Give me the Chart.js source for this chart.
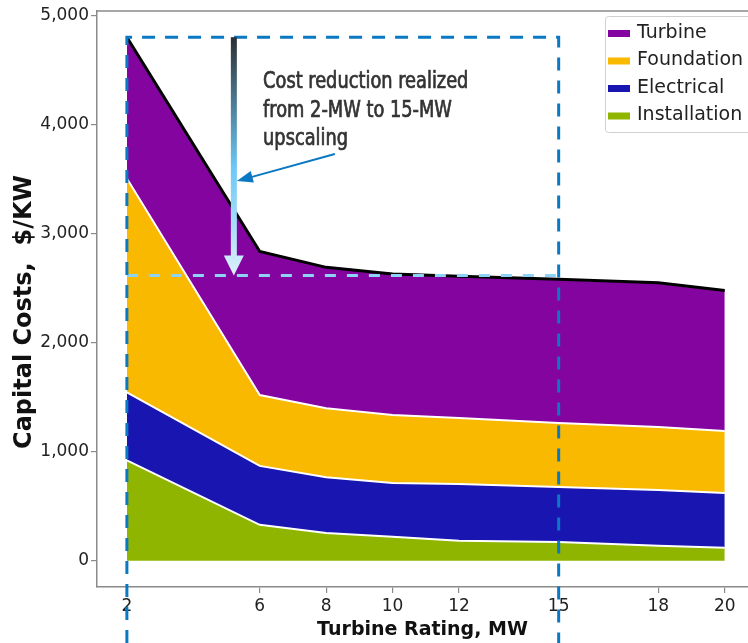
<!DOCTYPE html>
<html>
<head>
<meta charset="utf-8">
<script src="https://cdn.jsdelivr.net/npm/chart.js@4.4.1/dist/chart.umd.min.js"></script>
<style>
  html, body { margin: 0; padding: 0; background: #fff; overflow: hidden; }
  #chart { display: block; }
</style>
</head>
<body>
<canvas id="chart" width="748" height="643"></canvas>
<script>
// ── DATA ────────────────────────────────────────────────────────────────────
const RATINGS = [2, 6, 8, 10, 12, 15, 18, 20];            // MW
const INSTALLATION = [920, 330, 255, 220, 185, 172, 138, 120];
const ELECTRICAL   = [625, 540, 512, 494, 520, 505, 512, 502];
const FOUNDATION   = [1960, 650, 632, 622, 604, 586, 576, 567];
const TURBINE      = [1295, 1316, 1291, 1294, 1300, 1317, 1324, 1289];

const X_TICKS = [2, 6, 8, 10, 12, 15, 18, 20];
const Y_TICKS = [0, 1000, 2000, 3000, 4000, 5000];

const SERIES = [
  { label: 'Installation', data: INSTALLATION, color: '#90b500' },
  { label: 'Electrical',   data: ELECTRICAL,   color: '#1915b0' },
  { label: 'Foundation',   data: FOUNDATION,   color: '#f8b900' },
  { label: 'Turbine',      data: TURBINE,      color: '#8404a0' }
];

// annotation anchors (data space)
const BOX_X = [2, 15];
const BOX_TOP = 4800;
const REDUCED_LEVEL = 2615;
const ARROW_X = 5.22;
const NOTE_LINES = ['Cost reduction realized', 'from 2-MW to 15-MW', 'upscaling'];

const AXIS_GRAY = '#8a8a8a';
const TICK_FONT = { family: 'DejaVu Sans', size: 17 };

// ── ANNOTATIONS / LEGEND / TITLES ───────────────────────────────────────────
const overlay = {
  id: 'overlay',
  afterDatasetsDraw(chart) {
    const ctx = chart.ctx, x = chart.scales.x, y = chart.scales.y, area = chart.chartArea;
    const px = v => x.getPixelForValue(v), py = v => y.getPixelForValue(v);
    ctx.save();

    // top spine (no right spine, it is cropped off)
    ctx.strokeStyle = AXIS_GRAY; ctx.lineWidth = 1.5;
    ctx.beginPath(); ctx.moveTo(area.left, area.top); ctx.lineTo(area.right, area.top); ctx.stroke();

    // light blue dashed level after upscaling
    ctx.strokeStyle = '#8dd3f7'; ctx.lineWidth = 3; ctx.setLineDash([11, 11]);
    ctx.beginPath(); ctx.moveTo(px(BOX_X[0]), py(REDUCED_LEVEL)); ctx.lineTo(px(BOX_X[1]), py(REDUCED_LEVEL)); ctx.stroke();

    // dark blue dashed frame 2 MW -> 15 MW
    ctx.strokeStyle = '#0b78c4'; ctx.lineWidth = 3; ctx.setLineDash([13, 10]);
    ctx.beginPath();
    ctx.moveTo(px(BOX_X[0]), chart.height); ctx.lineTo(px(BOX_X[0]), py(BOX_TOP));
    ctx.lineTo(px(BOX_X[1]), py(BOX_TOP)); ctx.lineTo(px(BOX_X[1]), chart.height);
    ctx.stroke();
    ctx.setLineDash([]);

    // gradient arrow showing the drop
    const ax = px(ARROW_X), yTop = py(BOX_TOP), yTip = py(REDUCED_LEVEL);
    const g = ctx.createLinearGradient(0, yTop, 0, yTip);
    g.addColorStop(0, '#2b2f33'); g.addColorStop(0.55, '#6cc8f6'); g.addColorStop(1, '#dcf1fc');
    ctx.fillStyle = g;
    ctx.fillRect(ax - 3, yTop, 6, yTip - yTop - 19);
    ctx.beginPath(); ctx.moveTo(ax - 10, yTip - 20); ctx.lineTo(ax + 10, yTip - 20); ctx.lineTo(ax, yTip); ctx.closePath(); ctx.fill();

    // pointer from the note to the arrow
    const fx = px(8.26), fy = py(3729), tx = ax + 3, ty = py(3481);
    const ang = Math.atan2(ty - fy, tx - fx);
    ctx.strokeStyle = ctx.fillStyle = '#0b78c4'; ctx.lineWidth = 2;
    ctx.beginPath(); ctx.moveTo(fx, fy); ctx.lineTo(tx - 12 * Math.cos(ang), ty - 12 * Math.sin(ang)); ctx.stroke();
    ctx.beginPath();
    ctx.moveTo(tx, ty);
    ctx.lineTo(tx - 16 * Math.cos(ang) + 6 * Math.sin(ang), ty - 16 * Math.sin(ang) - 6 * Math.cos(ang));
    ctx.lineTo(tx - 16 * Math.cos(ang) - 6 * Math.sin(ang), ty - 16 * Math.sin(ang) + 6 * Math.cos(ang));
    ctx.closePath(); ctx.fill();

    // note text (narrow face, squeezed a bit and thickened with a hairline stroke)
    ctx.save();
    ctx.fillStyle = ctx.strokeStyle = '#333'; ctx.lineWidth = 0.7;
    ctx.font = '23px "DejaVu Sans Condensed", "Liberation Sans Narrow", sans-serif';
    ctx.textAlign = 'left'; ctx.textBaseline = 'alphabetic';
    ctx.translate(px(6.1), 0); ctx.scale(0.86, 1);
    NOTE_LINES.forEach((t, i) => { ctx.fillText(t, 0, 88 + i * 28.5); ctx.strokeText(t, 0, 88 + i * 28.5); });
    ctx.restore();

    // legend (top right, partly cut by the frame edge)
    ctx.fillStyle = 'rgba(255,255,255,0.85)'; ctx.strokeStyle = '#d0d0d0'; ctx.lineWidth = 1;
    ctx.beginPath(); ctx.roundRect(605.5, 16.5, 160, 116, 3); ctx.fill(); ctx.stroke();
    ctx.font = '19px "DejaVu Sans"'; ctx.textBaseline = 'middle';
    [...SERIES].reverse().forEach((s, i) => {
      const cy = 33 + i * 27.5;
      ctx.fillStyle = s.color; ctx.fillRect(608, cy - 3, 22, 7);
      ctx.fillStyle = '#222'; ctx.fillText(s.label, 637, cy);
    });

    // axis titles
    ctx.fillStyle = '#111'; ctx.font = 'bold 19px "DejaVu Sans"';
    ctx.textAlign = 'center'; ctx.textBaseline = 'middle';
    ctx.fillText('Turbine Rating, MW', (area.left + area.right) / 2, 630);
    ctx.save();
    ctx.translate(25, 312); ctx.rotate(-Math.PI / 2);
    ctx.font = 'bold 24px "DejaVu Sans"';
    ctx.fillText('Capital Costs,  $/KW', 0, 0);
    ctx.restore();

    ctx.restore();
  }
};

// ── CHART ───────────────────────────────────────────────────────────────────
new Chart(document.getElementById('chart'), {
  type: 'line',
  data: {
    labels: RATINGS,
    datasets: SERIES.map((s, i) => ({
      label: s.label,
      data: RATINGS.map((r, j) => ({ x: r, y: s.data[j] })),
      backgroundColor: s.color,
      borderColor: s.label === 'Turbine' ? '#000' : '#fff',
      borderWidth: s.label === 'Turbine' ? 3 : 2,
      fill: i === 0 ? 'origin' : '-1',
      pointRadius: 0,
      tension: 0
    }))
  },
  options: {
    responsive: false,
    animation: false,
    layout: { padding: { top: 11, right: 0, bottom: 0, left: 0 } },
    plugins: { legend: { display: false }, tooltip: { enabled: false } },
    scales: {
      x: {
        type: 'linear', min: 1.1, max: 20.7,
        afterBuildTicks: s => { s.ticks = X_TICKS.map(v => ({ value: v })); },
        afterFit: s => { s.height = 56; s.paddingLeft = 0; s.paddingRight = 0; },
        grid: { drawOnChartArea: false, color: AXIS_GRAY, tickLength: 6, lineWidth: 1.2 },
        border: { color: AXIS_GRAY, width: 1.5 },
        ticks: { color: '#222', font: TICK_FONT, padding: 3, maxRotation: 0, autoSkip: false }
      },
      y: {
        type: 'linear', stacked: true, min: -240, max: 5040,
        afterBuildTicks: s => { s.ticks = Y_TICKS.map(v => ({ value: v })); },
        afterFit: s => { s.width = 97; s.paddingTop = 0; s.paddingBottom = 0; },
        grid: { drawOnChartArea: false, color: AXIS_GRAY, tickLength: 6, lineWidth: 1.2 },
        border: { color: AXIS_GRAY, width: 1.5 },
        ticks: { color: '#222', font: TICK_FONT, padding: 2, callback: v => v.toLocaleString('en-US') }
      }
    }
  },
  plugins: [overlay]
});
</script>
</body>
</html>
